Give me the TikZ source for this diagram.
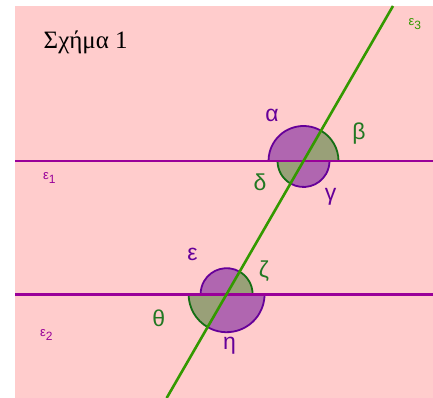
\documentclass[tikz,border=0pt]{standalone}
\usepackage{fontspec}
\setmainfont{Liberation Serif}
\newfontfamily\lblfont{Liberation Sans}
\usetikzlibrary{calc}
\definecolor{bgpink}{RGB}{255,204,204}
\definecolor{lpurple}{RGB}{153,0,153}
\definecolor{lgreen}{RGB}{51,153,0}
\definecolor{pfillc}{RGB}{176,102,176}
\definecolor{gfillc}{RGB}{153,160,120}
\definecolor{pedgec}{RGB}{102,0,153}
\definecolor{gedgec}{RGB}{20,110,20}
\definecolor{ptext}{RGB}{102,0,153}
\definecolor{gtext}{RGB}{34,120,34}
\tikzset{
  pfill/.style={fill=pfillc},
  gfill/.style={fill=gfillc},
  pedge/.style={draw=pedgec,line width=1.8pt},
  gedge/.style={draw=gedgec,line width=1.8pt},
  hline/.style={draw=lpurple,line width=2.8pt},
  tline/.style={draw=lgreen,line width=2.6pt},
  anglbl/.style={font=\lblfont\fontsize{23}{23}\selectfont,inner sep=0pt},
  linelbl/.style={font=\lblfont\fontsize{13}{13}\selectfont,inner sep=0pt,anchor=base west},
}
\newcommand{\sector}[6]{% center, start, end, radius, fillstyle, edgestyle
  \fill[#5] (#1) -- ($(#1)+(#2:#4)$) arc[start angle=#2,end angle=#3,radius=#4] -- cycle;
  \draw[#6] ($(#1)+(#2:#4)$) arc[start angle=#2,end angle=#3,radius=#4];
}
\begin{document}
\begin{tikzpicture}[x=1pt,y=1pt]
\useasboundingbox (0,0) rectangle (433,398);
\fill[bgpink] (15,0) rectangle (433,392);
\coordinate (P1) at (303.5,237);
\coordinate (P2) at (226.6,103.8);
% angles
\sector{P1}{60}{180}{35pt}{pfill}{pedge}
\sector{P1}{0}{60}{35pt}{gfill}{gedge}
\sector{P1}{180}{240}{26pt}{gfill}{gedge}
\sector{P1}{240}{360}{26pt}{pfill}{pedge}
\sector{P2}{60}{180}{26pt}{pfill}{pedge}
\sector{P2}{0}{60}{26pt}{gfill}{gedge}
\sector{P2}{180}{240}{38pt}{gfill}{gedge}
\sector{P2}{240}{360}{38pt}{pfill}{pedge}
% lines
\coordinate (e1l) at (15,237);
\coordinate (e1r) at (433,237);
\coordinate (e2l) at (15,103.8);
\coordinate (e2r) at (433,103.8);
\coordinate (e3t) at ($(P1)+(60:179pt)$);
\coordinate (e3b) at ($(P1)+(240:273.7pt)$);
\draw[hline] (e1l) -- (e1r);
\draw[hline] (e2l) -- (e2r);
\draw[tline] (e3b) -- (e3t);
% title
\node[anchor=base west,inner sep=0pt,font=\fontsize{25}{25}\selectfont] (title) at (43.5,349.7) {Σχήμα 1};
% angle labels
\node[anglbl,text=ptext] (la) at (272,282.5) {α};
\node[anglbl,text=gtext] (lb) at (359,264) {β};
\node[anglbl,text=gtext] (ld) at (260,216) {δ};
\node[anglbl,text=ptext] (lc) at (330.5,201) {γ};
\node[anglbl,text=ptext] (le) at (192.5,144) {ε};
\node[anglbl,text=gtext] (lz) at (264,127) {ζ};
\node[anglbl,text=gtext] (lt) at (158.7,79.5) {θ};
\node[anglbl,text=ptext] (lh) at (229.5,52.5) {η};
% line labels
\node[linelbl,text=lpurple] (n1) at (43,218) {ε\raisebox{-4pt}{\fontsize{12}{12}\selectfont 1}};
\node[linelbl,text=lpurple] (n2) at (40,61) {ε\raisebox{-4pt}{\fontsize{12}{12}\selectfont 2}};
\node[linelbl,text=lgreen] (n3) at (408.3,372.7) {ε\raisebox{-4pt}{\fontsize{12}{12}\selectfont 3}};
\end{tikzpicture}
\end{document}
